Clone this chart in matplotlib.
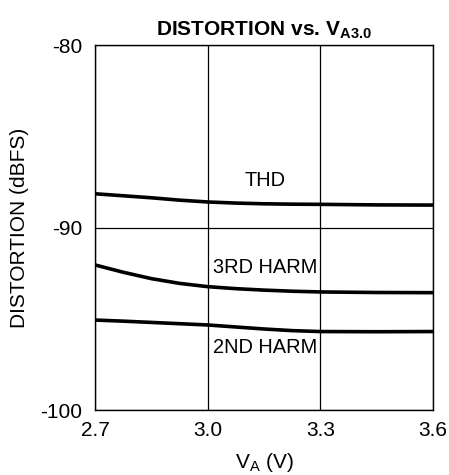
import matplotlib
matplotlib.use("Agg")
import matplotlib.pyplot as plt

plt.rcParams['font.family'] = ['Liberation Sans', 'DejaVu Sans']
plt.rcParams['axes.unicode_minus'] = False
plt.rcParams['mathtext.fontset'] = 'custom'
plt.rcParams['mathtext.rm'] = 'Liberation Sans'
plt.rcParams['mathtext.bf'] = 'Liberation Sans:bold'

# supply voltage (V)
va = [2.70, 2.775, 2.85, 2.925, 3.00, 3.075, 3.15, 3.225, 3.30, 3.45, 3.60]
# distortion (dBFS)
thd = [-88.15, -88.26, -88.37, -88.50, -88.60, -88.66, -88.70, -88.72, -88.73, -88.76, -88.77]
harm3 = [-92.05, -92.45, -92.80, -93.06, -93.24, -93.35, -93.43, -93.49, -93.53, -93.56, -93.57]
harm2 = [-95.07, -95.13, -95.20, -95.27, -95.34, -95.45, -95.56, -95.65, -95.70, -95.71, -95.70]

xticks = [2.7, 3.0, 3.3, 3.6]
xticklabels = ["2.7", "3.0", "3.3", "3.6"]
yticks = [-100, -90, -80]

fig = plt.figure(figsize=(4.49, 4.75), dpi=100)
ax = fig.add_axes([0.2116, 0.1368, 0.7528, 0.7684])

for y in (thd, harm3, harm2):
    ax.plot(va, y, color="black", lw=2.6, solid_capstyle="butt")

ax.set_xlim(2.7, 3.6)
ax.set_ylim(-100, -80)
ax.set_xticks(xticks)
ax.set_xticklabels(xticklabels)
ax.set_yticks(yticks)
ax.tick_params(length=0, labelsize=15)
ax.tick_params(axis="x", pad=8)
ax.tick_params(axis="y", pad=9)
ax.grid(True, color="black", lw=0.9)
for s in ax.spines.values():
    s.set_linewidth(1.0)

ax.text(3.153, -87.4, "THD", ha="center", va="center", fontsize=14.4)
ax.text(3.153, -92.2, "3RD HARM", ha="center", va="center", fontsize=14.4)
ax.text(3.153, -96.55, "2ND HARM", ha="center", va="center", fontsize=14.4)

ax.set_title(r"DISTORTION vs. V$_{\mathbf{A3.0}}$", fontsize=15, fontweight="bold", pad=7)
ax.set_xlabel(r"V$_\mathregular{A}$ (V)", fontsize=15, labelpad=8)
ax.set_ylabel("DISTORTION (dBFS)", fontsize=15, labelpad=8)

fig.savefig("out.png", dpi=100)
